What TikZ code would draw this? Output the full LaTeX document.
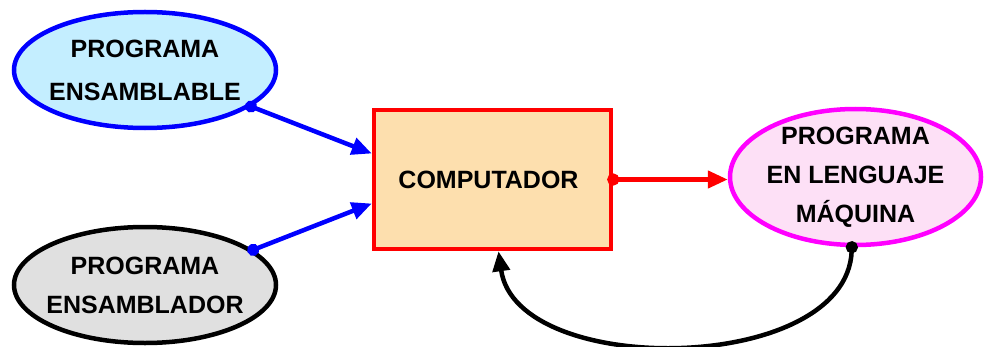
\documentclass[tikz,border=0pt]{standalone}
\usepackage{fontspec}
\setmainfont{Liberation Sans}
\usetikzlibrary{arrows.meta,calc,shapes.geometric}

\definecolor{cyanfill}{HTML}{C4EEFF}
\definecolor{grayfill}{HTML}{E0E0E0}
\definecolor{orangefill}{HTML}{FDDFAE}
\definecolor{pinkfill}{HTML}{FDE0F6}
\definecolor{pureblue}{HTML}{0000FF}
\definecolor{purered}{HTML}{FF0000}
\definecolor{puremagenta}{HTML}{FF00FF}

\tikzset{
  label text/.style={font=\fontsize{25}{39}\selectfont\bfseries, align=center, text=black},
  % negative inner sep keeps the outline at its minimum size
  bubble/.style={ellipse, draw, line width=4.5pt, inner sep=-20pt, label text},
  block/.style={rectangle, draw, line width=4.5pt, inner sep=0pt, label text},
  link/.style={line width=4.5pt, shorten <=-6pt,
    {Circle[length=12pt]}-{Triangle[length=20pt,width=17pt]}},
}

\begin{document}
\begin{tikzpicture}[x=1pt, y=1pt]
  \useasboundingbox (0,0) rectangle (984,346);

  % source programs
  \node[bubble, draw=pureblue, fill=cyanfill,
        minimum width=262pt, minimum height=116pt] (src) at (145,276)
        {PROGRAMA\\[4pt]ENSAMBLABLE};
  \node[bubble, draw=black, fill=grayfill,
        minimum width=262pt, minimum height=116pt] (asm) at (145,61)
        {PROGRAMA\\ENSAMBLADOR};

  % the computer
  \node[block, draw=purered, fill=orangefill,
        minimum width=237pt, minimum height=139pt] (comp) at (492.5,166.5)
        {\hspace*{-8pt}COMPUTADOR};

  % output program
  \node[bubble, draw=puremagenta, fill=pinkfill,
        minimum width=251pt, minimum height=136pt] (mach) at (855.5,169)
        {PROGRAMA\\EN LENGUAJE\\MÁQUINA};

  % connectors
  \draw[link, pureblue] (src.-19) -- ($(comp.west)+(0,26)$);
  \draw[link, pureblue] (asm.18) -- ($(comp.west)+(0,-24)$);
  \draw[link, purered] (comp.east) -- (comp.east -| mach.west);

  \coordinate (back) at ($(comp.south)+(6,0)$);
  \draw[link, black] (mach.-93) .. controls +(-5,-128) and +(18,-128) .. (back);
\end{tikzpicture}
\end{document}
